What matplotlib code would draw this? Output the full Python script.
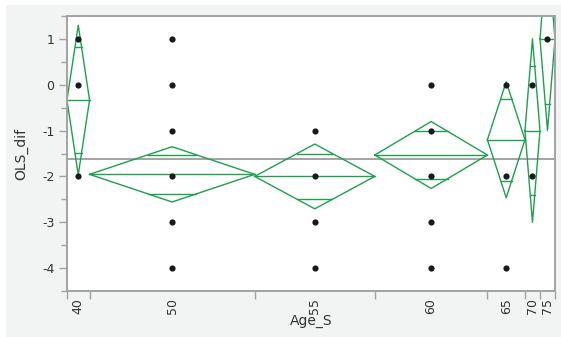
import numpy as np
import matplotlib.pyplot as plt
from matplotlib.patches import Rectangle

# 分组（年龄段）及每组样本数
groups = ['40', '50', '55', '60', '65', '70', '75']
counts = [3, 22, 16, 15, 5, 2, 2]
# 各组均值
means = [-0.333, -1.955, -2.0, -1.533, -1.2, -1.0, 1.0]
# 各组出现的观测值
points = [
    [1, 0, -2],
    [1, 0, -1, -2, -3, -4],
    [-1, -2, -3, -4],
    [0, -1, -2, -3, -4],
    [0, -2, -4],
    [0, -2],
    [1],
]
rmse = 1.413      # 合并标准差
t_crit = 2.0017   # t(0.975, 58)

green = '#1f9f50'
grey = '#a3a3a3'
txt = '#333333'

counts = np.array(counts)
means = np.array(means)
bounds = np.concatenate([[0], np.cumsum(counts)])
centers = (bounds[:-1] + bounds[1:]) / 2
ci = t_crit * rmse / np.sqrt(counts)
grand = np.sum(counts * means) / counts.sum()

fig = plt.figure(figsize=(5.61, 3.37), dpi=100, facecolor='white')
fig.patches.append(Rectangle((6 / 561, 0), 1, 1 - 5 / 337, transform=fig.transFigure,
                             facecolor='#f2f3f3', edgecolor='none', zorder=-10))
ax = fig.add_axes([67 / 561, 46 / 337, 488 / 561, 275 / 337])
ax.set_facecolor('white')

# 总均值线
ax.axhline(grand, color=grey, lw=1.4, zorder=1)

# 均值菱形
for i in range(len(groups)):
    l, r, c, m, h = bounds[i], bounds[i + 1], centers[i], means[i], ci[i]
    ax.plot([l, c, r, c, l], [m, m + h, m, m - h, m], color=green, lw=1.0, zorder=2)
    ax.plot([l, r], [m, m], color=green, lw=1.0, zorder=2)
    # 重叠标记
    d = h * np.sqrt(2) / 2
    hw = (r - l) / 2 * (1 - d / h)
    for y in (m + d, m - d):
        ax.plot([c - hw, c + hw], [y, y], color=green, lw=1.0, zorder=2)

# 数据点
for i, vals in enumerate(points):
    ax.scatter([centers[i]] * len(vals), vals, s=20, color='#1a1a1a', zorder=3, linewidths=0)

ax.set_xlim(0, counts.sum())
ax.set_ylim(-4.5, 1.5)

ax.set_yticks(np.arange(-4, 2, 1))
ax.set_yticklabels([str(v) for v in range(-4, 2)])
ax.set_yticks(np.arange(-4.5, 1.6, 0.5), minor=True)
ax.tick_params(axis='y', which='major', length=6, width=1, color=grey, labelsize=9, labelcolor=txt, pad=3)
ax.tick_params(axis='y', which='minor', length=4, width=1, color=grey)

ax.set_xticks(bounds)
ax.set_xticklabels([''] * len(bounds))
ax.set_xticks(centers, minor=True)
ax.set_xticklabels(groups, minor=True, rotation=90)
ax.tick_params(axis='x', which='major', length=6, width=1, color=grey)
ax.tick_params(axis='x', which='minor', length=0, labelsize=9, labelcolor=txt, pad=5)

for s in ax.spines.values():
    s.set_color(grey)
    s.set_linewidth(1.4)

ax.set_xlabel('Age_S', fontsize=10, color=txt, labelpad=0)
ax.set_ylabel('OLS_dif', fontsize=10, color=txt, labelpad=10)

fig.savefig('out.png', dpi=100)
